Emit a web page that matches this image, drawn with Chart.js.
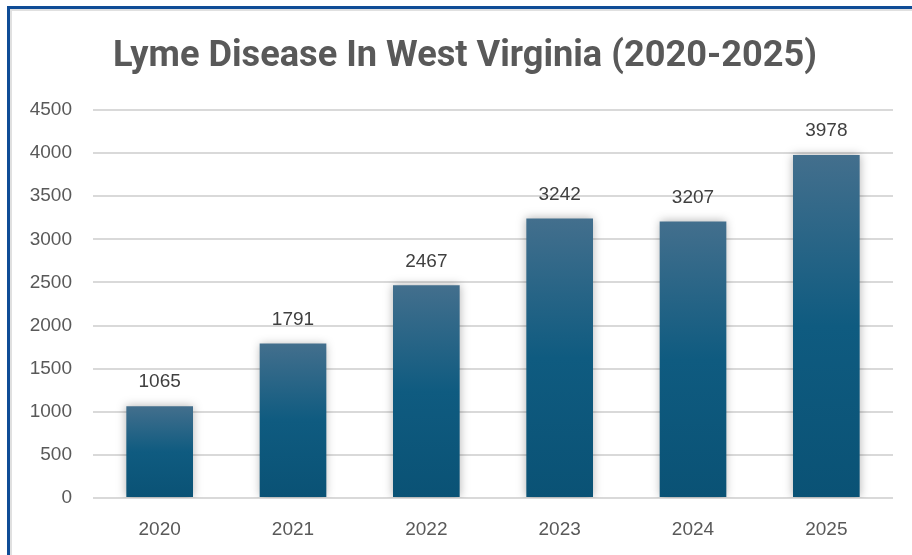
<!DOCTYPE html>
<html>
<head>
<meta charset="utf-8">
<title>Lyme Disease In West Virginia</title>
<script src="https://cdn.jsdelivr.net/npm/chart.js@4.4.1/dist/chart.umd.min.js"></script>
<style>
    html, body { margin: 0; padding: 0; background: #fff; overflow: hidden; }
    #wrap { position: relative; width: 912px; height: 555px; }
    #frame {
        position: absolute; left: 7px; top: 6px; width: 1000px; height: 1000px;
        border-left: 3px solid #0f4c96; border-top: 3px solid #0f4c96;
        box-shadow: inset 2px 2px 0 #e0e0e0;
    }
    canvas { position: absolute; left: 0; top: 0; }
</style>
</head>
<body>
<div id="wrap">
    <div id="frame"></div>
    <canvas id="lymeChart" width="912" height="555"></canvas>
</div>
<script>
// Chart data
const chartTitle = 'Lyme Disease In West Virginia (2020-2025)';
const years = ['2020', '2021', '2022', '2023', '2024', '2025'];
const cases = [1065, 1791, 2467, 3242, 3207, 3978];
const yTicks = [0, 500, 1000, 1500, 2000, 2500, 3000, 3500, 4000, 4500];

const textGrey = '#595959';
const labelFont = '"Liberation Sans", Arial, sans-serif';

// bar fill: lighter at the top, dark teal-blue at the bottom
function barGradient(context) {
    const chart = context.chart;
    const yScale = chart.scales.y;
    if (!chart.chartArea || !yScale || context.parsed === undefined) return '#0f5a80';
    const top = yScale.getPixelForValue(context.parsed.y);
    const base = yScale.getPixelForValue(0);
    const g = chart.ctx.createLinearGradient(0, top, 0, base);
    g.addColorStop(0, '#436f8d');
    g.addColorStop(0.5, '#0f5b80');
    g.addColorStop(1, '#0a5275');
    return g;
}

const barShadow = {
    id: 'barShadow',
    beforeDatasetDraw(chart) {
        const ctx = chart.ctx;
        ctx.save();
        ctx.shadowColor = 'rgba(0, 0, 0, 0.3)';
        ctx.shadowBlur = 9;
        ctx.shadowOffsetX = 0;
        ctx.shadowOffsetY = 0;
    },
    afterDatasetDraw(chart) {
        chart.ctx.restore();
    }
};

const valueLabels = {
    id: 'valueLabels',
    afterDatasetsDraw(chart) {
        const ctx = chart.ctx;
        const meta = chart.getDatasetMeta(0);
        ctx.save();
        ctx.font = '19px ' + labelFont;
        ctx.fillStyle = '#404040';
        ctx.textAlign = 'center';
        ctx.textBaseline = 'middle';
        meta.data.forEach((bar, i) => {
            ctx.fillText(String(cases[i]), bar.x, bar.y - 24);
        });
        ctx.restore();
    }
};

const titleText = {
    id: 'titleText',
    afterDraw(chart) {
        const ctx = chart.ctx;
        ctx.save();
        ctx.font = 'bold 36px Roboto, "Liberation Sans", sans-serif';
        const w = ctx.measureText(chartTitle).width;
        const target = 704;
        ctx.translate(465, 57);
        ctx.scale(target / w, 1);
        ctx.fillStyle = textGrey;
        ctx.textAlign = 'center';
        ctx.textBaseline = 'middle';
        ctx.fillText(chartTitle, 0, 0);
        ctx.restore();
    }
};

const ctx = document.getElementById('lymeChart').getContext('2d');
new Chart(ctx, {
    type: 'bar',
    data: {
        labels: years,
        datasets: [{
            label: 'Cases',
            data: cases,
            backgroundColor: barGradient,
            borderWidth: 0,
            barPercentage: 0.5,
            categoryPercentage: 1.0
        }]
    },
    options: {
        responsive: false,
        animation: false,
        devicePixelRatio: 1,
        layout: {
            padding: { top: 110, right: 19, bottom: 0, left: 0 }
        },
        plugins: {
            legend: { display: false },
            title: { display: false },
            tooltip: { enabled: false }
        },
        scales: {
            x: {
                grid: { display: false },
                border: { display: false },
                ticks: {
                    color: textGrey,
                    font: { family: labelFont, size: 19 },
                    padding: 12
                },
                afterFit(scale) { scale.height = 57; }
            },
            y: {
                min: 0,
                max: 4500,
                afterBuildTicks(scale) {
                    scale.ticks = yTicks.map(v => ({ value: v }));
                },
                grid: { color: '#d9d9d9', lineWidth: 2, drawTicks: false },
                border: { display: false },
                ticks: {
                    color: textGrey,
                    font: { family: labelFont, size: 19 },
                    padding: 21,
                    callback: (value) => String(value)
                },
                afterFit(scale) { scale.width = 93; }
            }
        }
    },
    plugins: [barShadow, valueLabels, titleText]
});
</script>
</body>
</html>
